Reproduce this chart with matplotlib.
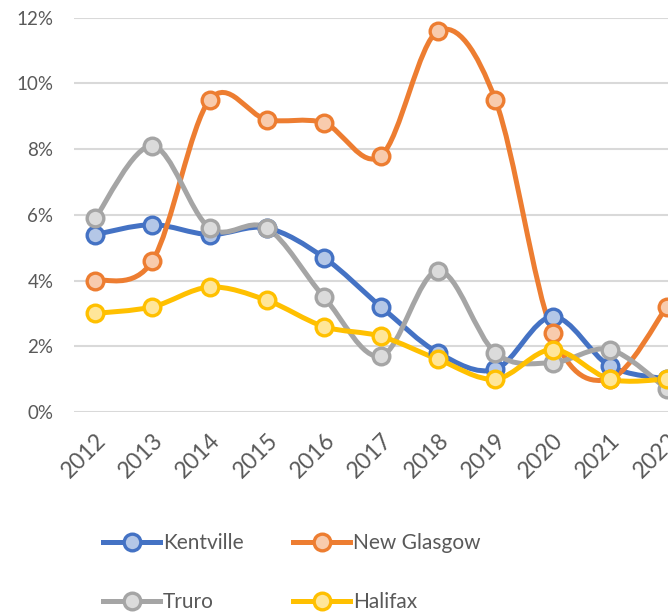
import matplotlib
matplotlib.use("Agg")
from matplotlib import pyplot as plt
from matplotlib.path import Path
from matplotlib.patches import PathPatch
from matplotlib.ticker import FuncFormatter
import numpy as np

years = [2012, 2013, 2014, 2015, 2016, 2017, 2018, 2019, 2020, 2021, 2022]

kentville = [5.4, 5.7, 5.4, 5.6, 4.7, 3.2, 1.8, 1.3, 2.9, 1.4, 1.0]
new_glasgow = [4.0, 4.6, 9.5, 8.9, 8.8, 7.8, 11.6, 9.5, 2.4, 1.0, 3.2]
truro = [5.9, 8.1, 5.6, 5.6, 3.5, 1.7, 4.3, 1.8, 1.5, 1.9, 0.7]
halifax = [3.0, 3.2, 3.8, 3.4, 2.6, 2.3, 1.6, 1.0, 1.9, 1.0, 1.0]

series = [
    ("Kentville", kentville, "#4472C4", "#B4C7E7"),
    ("New Glasgow", new_glasgow, "#ED7D31", "#F8CBAD"),
    ("Truro", truro, "#A5A5A5", "#DBDBDB"),
    ("Halifax", halifax, "#FFC000", "#FFE699"),
]

plt.rcParams['font.family'] = ['Lato', 'DejaVu Sans']


def smooth_path(x, y):
    # bezier segments like excel's smoothed line
    x = np.asarray(x, float)
    y = np.asarray(y, float)
    n = len(x)
    verts = [(x[0], y[0])]
    codes = [Path.MOVETO]
    for i in range(n - 1):
        p0 = np.array([x[max(i - 1, 0)], y[max(i - 1, 0)]])
        p1 = np.array([x[i], y[i]])
        p2 = np.array([x[i + 1], y[i + 1]])
        p3 = np.array([x[min(i + 2, n - 1)], y[min(i + 2, n - 1)]])
        c1 = p1 + (p2 - p0) / 6.0
        c2 = p2 - (p3 - p1) / 6.0
        verts += [tuple(c1), tuple(c2), tuple(p2)]
        codes += [Path.CURVE4] * 3
    return Path(verts, codes)


fig = plt.figure(figsize=(6.68, 6.13), dpi=100)
ax = fig.add_axes([0.111, 0.328, 0.889, 0.643])

handles = {}
for name, vals, col, face in series:
    patch = PathPatch(smooth_path(years, vals), facecolor='none', edgecolor=col,
                      lw=3.6, capstyle='round', joinstyle='round', zorder=3)
    ax.add_patch(patch)
    ax.plot(years, vals, ls='none', marker='o', ms=12, mfc=face, mec=col,
            mew=2.4, zorder=4)
    # legend proxy
    h, = ax.plot([], [], color=col, lw=3.6, marker='o', ms=12, mfc=face,
                 mec=col, mew=2.4)
    handles[name] = h

ax.set_xlim(2012 - 0.37, 2022.02)
ax.set_ylim(0, 12)
ax.set_yticks(np.arange(0, 13, 2))
ax.yaxis.set_major_formatter(FuncFormatter(lambda v, p: f"{v:.0f}%"))
ax.set_xticks(years)
ax.set_xticklabels([str(y) for y in years], rotation=45, ha='right',
                   rotation_mode='anchor')
ax.grid(axis='y', color='#D9D9D9', lw=1.5, zorder=0)
ax.set_axisbelow(True)
for s in ax.spines.values():
    s.set_visible(False)
ax.tick_params(axis='both', length=0, colors='#595959')
ax.tick_params(axis='y', pad=15, labelsize=13.5)
ax.tick_params(axis='x', pad=13, labelsize=16.5)

# column-wise fill, so order gives rows Kentville/New Glasgow, Truro/Halifax
order = ["Kentville", "Truro", "New Glasgow", "Halifax"]
fig.legend([handles[k] for k in order], order, loc='center',
           bbox_to_anchor=(0.437, 0.066), ncol=2, frameon=False, fontsize=15,
           handlelength=2.7, columnspacing=2.4, labelspacing=1.85,
           handletextpad=0.15, labelcolor='#595959')

fig.savefig("out.png", dpi=100)
